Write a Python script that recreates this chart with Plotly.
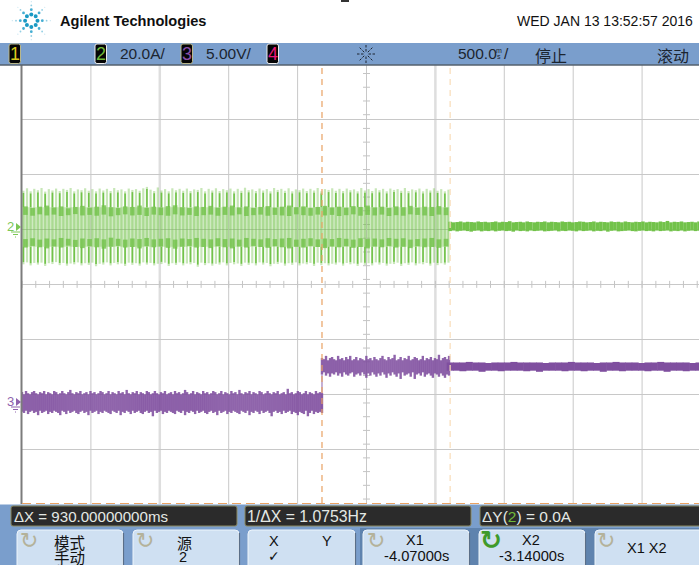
import numpy as np
import plotly.graph_objects as go

W, H = 699, 565

# time axis (s), cursors and scope scale
T_LEFT = -6.247
T_RIGHT = -1.334
X1 = -4.07
X2 = -3.14

# channel 2 current (A), one top/bottom per burst spike
ch2_tops = [13.2, 14.1, 13.0, 13.9, 13.4, 14.2, 12.9, 13.8, 13.3, 14.0, 13.1, 13.9, 13.5, 14.2, 13.0, 13.7,
            13.4, 14.1, 13.2, 13.8, 13.0, 14.0, 13.3, 13.9, 13.1, 14.2, 13.4, 13.7, 13.0, 14.0, 13.5, 13.8,
            13.2, 14.1, 14.6, 13.6, 13.1, 14.4, 13.3, 13.8, 13.0, 14.1, 13.4, 13.9, 13.2, 14.0, 13.1, 13.7,
            13.5, 14.2, 13.0, 13.9, 13.3, 14.1, 13.1, 13.8, 13.4, 14.0, 13.0, 13.9, 13.2, 14.3, 13.4, 13.7,
            13.1, 14.0, 13.3, 13.8, 13.0, 14.2, 13.5, 13.9, 13.2, 14.1, 13.0, 13.7, 13.4, 14.0, 13.1, 13.9,
            13.3, 14.2, 13.0, 13.8, 13.5, 14.1, 13.2, 13.9, 13.1, 14.0, 13.4, 13.7, 13.0, 14.2, 13.3, 13.8,
            13.1, 14.1, 13.4, 13.9, 13.0, 14.0, 13.5, 13.8, 13.2, 14.2, 13.1, 13.7, 13.4, 14.0, 13.0, 13.9,
            13.3, 14.1, 13.2, 13.8, 13.0, 13.6]
ch2_bottoms = [-13.6, -12.9, -14.0, -13.1, -13.7, -13.0, -14.2, -13.2, -13.5, -12.8, -13.9, -13.1, -14.1, -13.3, -13.6, -12.9,
               -14.0, -13.2, -13.8, -13.0, -14.3, -13.4, -13.7, -12.9, -14.0, -13.1, -13.6, -13.3, -14.2, -13.0, -13.8, -13.2,
               -14.1, -12.9, -13.7, -13.1, -14.0, -13.4, -13.5, -13.0, -14.2, -13.2, -13.8, -12.9, -14.0, -13.3, -13.6, -13.1,
               -14.5, -13.0, -13.9, -13.2, -14.1, -13.4, -13.7, -12.9, -14.0, -13.1, -13.6, -13.3, -14.2, -13.0, -13.8, -13.2,
               -14.0, -12.9, -13.7, -13.1, -14.3, -13.4, -13.5, -13.0, -14.1, -13.2, -13.8, -12.9, -14.0, -13.3, -13.6, -13.1,
               -14.2, -13.0, -13.9, -13.2, -14.0, -13.4, -13.7, -12.9, -14.1, -13.1, -13.6, -13.3, -14.2, -13.0, -13.8, -13.2,
               -14.0, -12.9, -13.7, -13.1, -14.1, -13.4, -13.5, -13.0, -14.2, -13.2, -13.8, -12.9, -14.0, -13.3, -13.6, -13.1,
               -14.1, -13.0, -13.9, -13.2, -13.7, -13.0]

# dense parts of the burst (A)
ch2_core = 7.2
ch2_band_out = [7.5, 6.9, 7.4, 7.8, 7.1, 7.5, 6.8, 7.3, 7.7, 7.0, 7.4, 7.9, 7.2, 6.9, 7.5, 7.3,
                7.8, 7.0, 7.4, 7.1, 7.6, 7.9, 7.2, 6.9, 7.5, 7.3, 7.7, 7.0, 7.4, 7.8, 7.1, 7.5,
                6.9, 7.3, 7.6, 7.0, 7.4, 7.8, 7.2, 7.5, 6.9, 7.3, 7.7, 7.1, 7.4, 7.0, 7.6, 7.3,
                7.8, 7.1, 7.4, 6.9, 7.5, 7.2, 7.7, 7.0, 7.4, 7.3, 7.6, 7.1]
ch2_band_in = [4.4, 4.1, 4.6, 4.2, 4.5, 4.0, 4.3, 4.7, 4.2, 4.4, 4.1, 4.5, 3.9, 4.3, 4.6, 4.2,
               4.4, 4.0, 4.5, 4.3, 4.1, 4.6, 4.2, 4.4, 4.0, 4.3, 4.5, 4.1, 4.4, 4.2, 4.6, 4.0,
               4.3, 4.5, 4.1, 4.4, 4.2, 4.0, 4.6, 4.3, 4.1, 4.5, 4.2, 4.4, 4.0, 4.3, 4.6, 4.1,
               4.4, 4.2, 4.5, 4.0, 4.3, 4.1, 4.6, 4.4, 4.2, 4.0, 4.5, 4.3]

# channel 2 after the second cursor (A)
ch2_off_hi = [1.9, 1.7, 1.8, 2.0, 1.7, 1.9, 1.8, 1.7, 2.0, 1.8, 1.9, 1.7, 1.8, 2.0, 1.7, 1.9, 1.8, 2.1, 1.7, 1.8,
              1.9, 1.7, 2.0, 1.8, 1.7, 1.9, 1.8, 2.0, 1.7, 1.9, 1.8, 1.7, 2.0, 1.8, 1.9, 1.7, 1.8, 2.0, 1.9, 1.7,
              1.8, 2.0, 1.7, 1.9, 1.8, 1.7, 2.0, 1.8, 1.9, 1.7, 2.0, 1.8, 1.7, 1.9, 1.8, 2.0, 1.7, 1.9, 1.8, 1.7,
              2.0, 1.8, 2.2, 1.7, 1.9, 1.8, 2.0, 1.7, 1.8, 1.9, 1.7, 2.0]
ch2_off_lo = [-1.5, -1.3, -1.6, -1.4, -1.3, -1.5, -1.7, -1.4, -1.3, -1.6, -1.4, -1.5, -1.3, -1.6, -1.4, -1.3, -1.5, -1.4, -1.7, -1.3,
              -1.5, -1.4, -1.6, -1.3, -1.5, -1.4, -1.3, -1.6, -1.5, -1.4, -1.3, -1.6, -1.4, -1.5, -1.3, -1.4, -1.6, -1.3, -1.5, -1.4,
              -1.3, -1.6, -1.4, -1.5, -1.3, -1.7, -1.4, -1.3, -1.6, -1.5, -1.4, -1.3, -1.5, -1.6, -1.4, -1.3, -1.5, -1.4, -1.6, -1.3,
              -1.5, -1.4, -1.3, -1.6, -1.4, -1.5, -1.3, -1.6, -1.4, -1.3, -1.5, -1.4]

# channel 3 voltage (V): low level, raised level, quiet level
ch3_low_hi = [0.9, 0.7, 1.0, 0.8, 0.7, 0.9, 1.0, 0.8, 0.7, 0.9, 0.8, 1.0, 0.7, 0.9, 0.8, 0.7, 1.0, 0.9, 0.7, 0.8,
              1.0, 0.8, 0.7, 0.9, 1.1, 0.8, 0.7, 0.9, 0.8, 1.0, 0.7, 0.8, 0.9, 0.7, 1.0, 0.8, 0.9, 0.7, 0.8, 1.0,
              0.9, 0.7, 0.8, 1.0, 0.7, 0.9, 0.8, 0.7, 1.0, 0.8, 0.9, 0.7, 1.1, 0.8, 0.7, 0.9, 0.8, 1.0, 0.7, 0.9,
              0.8, 0.7, 1.0, 0.9, 0.7, 0.8, 1.0, 0.8, 0.7, 0.9, 0.8, 1.0, 0.7, 0.8, 0.9, 0.7, 1.0, 0.8, 0.9, 0.7,
              0.8, 1.1, 0.9, 0.7, 0.8, 1.0, 0.7, 0.9, 0.8, 0.7, 1.0, 0.8, 0.9, 0.7, 0.8, 1.0, 0.9, 0.7, 0.8, 1.0,
              0.7, 0.9, 0.8, 0.7, 1.0, 0.8, 0.9, 0.7, 1.1, 0.8, 0.7, 0.9, 0.8, 1.0, 0.7, 0.9, 0.8, 0.7, 1.0, 0.9,
              0.7, 0.8, 1.0, 0.8, 0.7, 0.9, 0.8, 1.0, 0.7, 0.8, 0.9, 0.7, 1.2, 0.8, 0.9, 0.7, 0.8, 1.0, 0.9, 0.7,
              0.8, 1.0, 0.7, 0.9, 0.8, 0.7, 1.0, 0.8, 0.9, 0.8]
ch3_low_lo = [-0.9, -1.0, -0.8, -1.1, -0.9, -0.8, -1.0, -0.9, -1.2, -0.8, -1.0, -0.9, -0.8, -1.1, -0.9, -1.0, -0.8, -0.9, -1.0, -1.2,
              -0.8, -0.9, -1.1, -0.8, -1.0, -0.9, -0.8, -1.0, -1.1, -0.9, -0.8, -1.0, -0.9, -1.2, -0.8, -1.0, -0.9, -0.8, -1.1, -0.9,
              -1.0, -0.8, -0.9, -1.0, -1.1, -0.8, -0.9, -1.0, -0.8, -1.2, -0.9, -1.0, -0.8, -0.9, -1.1, -0.8, -1.0, -0.9, -0.8, -1.0,
              -1.1, -0.9, -0.8, -1.0, -0.9, -1.3, -0.8, -1.0, -0.9, -0.8, -1.1, -0.9, -1.0, -0.8, -0.9, -1.0, -1.1, -0.8, -0.9, -1.0,
              -0.8, -1.2, -0.9, -1.0, -0.8, -0.9, -1.1, -0.8, -1.0, -0.9, -0.8, -1.0, -1.1, -0.9, -0.8, -1.0, -0.9, -1.2, -0.8, -1.0,
              -0.9, -0.8, -1.1, -0.9, -1.0, -0.8, -0.9, -1.0, -1.1, -0.8, -0.9, -1.0, -0.8, -1.2, -0.9, -1.0, -0.8, -0.9, -1.1, -0.8,
              -1.0, -0.9, -0.8, -1.0, -1.3, -0.9, -0.8, -1.0, -0.9, -1.1, -0.8, -1.0, -0.9, -0.8, -1.1, -0.9, -1.0, -1.2, -0.9, -1.0,
              -1.1, -0.8, -1.3, -1.0, -0.8, -1.1, -0.9, -1.0, -0.9, -1.0]
ch3_high_hi = [4.0, 3.9, 4.2, 3.8, 4.0, 4.1, 3.9, 3.8, 4.2, 3.9, 4.0, 3.8, 4.1, 3.9, 4.2, 3.8,
               3.9, 4.1, 3.8, 4.0, 3.9, 3.8, 4.2, 3.9, 4.0, 3.8, 4.1, 3.9, 3.8, 4.0, 4.2, 3.9,
               3.8, 4.1, 3.9, 4.0, 4.3, 3.8, 3.9, 4.1, 3.8, 4.0, 3.9, 4.2, 3.8, 3.9, 4.1, 4.0,
               3.8, 3.9, 4.2, 3.8, 4.0, 3.9, 4.1, 3.8, 4.0, 3.9, 4.3, 3.8, 4.0, 4.1, 3.9, 4.2]
ch3_high_lo = [2.5, 2.7, 2.4, 2.6, 2.3, 2.6, 2.5, 2.7, 2.4, 2.6, 2.3, 2.7, 2.5, 2.4, 2.6, 2.7,
               2.3, 2.5, 2.6, 2.4, 2.7, 2.5, 2.2, 2.6, 2.4, 2.7, 2.5, 2.3, 2.6, 2.4, 2.7, 2.5,
               2.2, 2.6, 2.4, 2.7, 2.5, 2.3, 2.6, 2.1, 2.7, 2.4, 2.5, 2.6, 2.3, 2.7, 2.1, 2.5,
               2.6, 2.4, 2.7, 2.3, 2.5, 2.6, 2.4, 2.2, 2.6, 2.5, 2.3, 2.6, 2.4, 2.2, 2.5, 2.4]
ch3_off_hi = [3.6, 3.6, 3.6, 3.65, 3.6, 3.6, 3.55, 3.6, 3.6, 3.6, 3.65, 3.6, 3.6, 3.6, 3.6, 3.55, 3.6, 3.6, 3.6, 3.65,
              3.6, 3.6, 3.6, 3.55, 3.6, 3.6, 3.65, 3.6, 3.6, 3.6, 3.55, 3.6, 3.6, 3.65, 3.6, 3.6, 3.6, 3.6, 3.55, 3.6]
ch3_off_lo = [2.85, 2.85, 2.8, 2.85, 2.85, 2.75, 2.85, 2.85, 2.8, 2.85, 2.85, 2.85, 2.8, 2.85, 2.75, 2.85, 2.85, 2.85, 2.8, 2.85,
              2.85, 2.8, 2.85, 2.85, 2.75, 2.85, 2.85, 2.8, 2.85, 2.85, 2.85, 2.8, 2.85, 2.85, 2.75, 2.85, 2.85, 2.8, 2.85, 2.85]

GREEN = "#72c24a"
PURPLE = "#7f4f9f"
BAR = "#7a9ecc"
SANS = "Liberation Sans"
CJK = "Noto Sans CJK SC"


def px(x):
    return x / W


def py(y):
    return 1 - y / H


def segments(t, lo, hi):
    xs, ys = [], []
    for a, b, c in zip(t, lo, hi):
        xs += [a, a, None]
        ys += [b, c, None]
    return xs, ys


fig = go.Figure()


def add_seg(t, lo, hi, color, width, yaxis="y"):
    xs, ys = segments(t, lo, hi)
    fig.add_trace(go.Scatter(x=xs, y=ys, mode="lines", yaxis=yaxis, hoverinfo="skip",
                             line=dict(color=color, width=width)))


# center graticule ticks
tick_x = np.arange(T_LEFT, T_RIGHT, 0.1)
tick_y = np.arange(-100, 60, 5.0) + 0.9
fig.add_trace(go.Scatter(x=tick_x, y=[-20.9] * len(tick_x), mode="markers", hoverinfo="skip",
                         marker=dict(symbol="line-ns", size=5, line=dict(width=1, color="#c4c4c4"))))
fig.add_trace(go.Scatter(x=[T_LEFT + 2.5] * len(tick_y), y=tick_y, mode="markers", hoverinfo="skip",
                         marker=dict(symbol="line-ew", size=5, line=dict(width=1, color="#c4c4c4"))))

# channel 2 burst
burst_t = np.linspace(T_LEFT + 0.01, X2 - 0.012, len(ch2_tops))
band_t = np.linspace(T_LEFT + 0.025, X2 - 0.03, len(ch2_band_out))
fig.add_trace(go.Scatter(x=[T_LEFT, X2 - 0.008, X2 - 0.008, T_LEFT], y=[ch2_core, ch2_core, -ch2_core, -ch2_core],
                         mode="none", fill="toself", fillcolor="rgba(114,194,74,0.34)", hoverinfo="skip"))
add_seg(burst_t, ch2_bottoms, ch2_tops, "rgba(114,194,74,0.4)", 2.2)
add_seg(burst_t[::2], [ch2_core] * len(burst_t[::2]), np.array(ch2_tops[::2]) - 0.8, GREEN, 1.6)
add_seg(burst_t[::2], [-ch2_core] * len(burst_t[::2]), np.array(ch2_bottoms[::2]) + 0.8, GREEN, 1.6)
add_seg(band_t, ch2_band_in, ch2_band_out, "rgba(114,194,74,0.8)", 4.6)
add_seg(band_t, -np.array(ch2_band_in), -np.array(ch2_band_out), "rgba(114,194,74,0.8)", 4.6)

# channel 2 after X2
off_t = np.linspace(X2, T_RIGHT, len(ch2_off_hi))
add_seg(off_t, ch2_off_lo, ch2_off_hi, GREEN, 3.6)

# channel 3
low_t = np.linspace(T_LEFT, X1, len(ch3_low_hi))
high_t = np.linspace(X1, X2 - 0.008, len(ch3_high_hi))
add_seg(low_t, ch3_low_lo, ch3_low_hi, "rgba(127,79,159,0.88)", 2.4, "y2")
add_seg([X1], [-1.0], [2.5], "rgba(127,79,159,0.6)", 1.5, "y2")
add_seg(high_t, ch3_high_lo, ch3_high_hi, "rgba(127,79,159,0.88)", 2.4, "y2")
add_seg(np.linspace(X2, T_RIGHT, len(ch3_off_hi)), ch3_off_lo, ch3_off_hi, PURPLE, 7, "y2")

shapes = []


def rect(x0, y0, x1, y1, fill, line=None, lw=0):
    shapes.append(dict(type="rect", xref="paper", yref="paper", x0=px(x0), x1=px(x1), y0=py(y0), y1=py(y1),
                       fillcolor=fill, line=dict(color=line or fill, width=lw), layer="above"))


def rrect(x0, y0, x1, y1, r, fill, line, lw=1):
    d = (f"M {px(x0 + r)} {py(y0)} L {px(x1 - r)} {py(y0)} Q {px(x1)} {py(y0)} {px(x1)} {py(y0 + r)} "
         f"L {px(x1)} {py(y1 - r)} Q {px(x1)} {py(y1)} {px(x1 - r)} {py(y1)} L {px(x0 + r)} {py(y1)} "
         f"Q {px(x0)} {py(y1)} {px(x0)} {py(y1 - r)} L {px(x0)} {py(y0 + r)} Q {px(x0)} {py(y0)} {px(x0 + r)} {py(y0)} Z")
    shapes.append(dict(type="path", xref="paper", yref="paper", path=d, fillcolor=fill,
                       line=dict(color=line, width=lw), layer="above"))


def seg(x0, y0, x1, y1, color, lw=1, dash="solid", layer="above"):
    shapes.append(dict(type="line", xref="paper", yref="paper", x0=px(x0), x1=px(x1), y0=py(y0), y1=py(y1),
                       line=dict(color=color, width=lw, dash=dash), layer=layer))


annotations = []


def label(x, y, text, size=14, color="#1c2530", anchor="center", font=SANS):
    annotations.append(dict(x=px(x), y=py(y), xref="paper", yref="paper", text=text, showarrow=False,
                            xanchor=anchor, yanchor="middle", align=anchor, borderpad=0,
                            font=dict(family=font, size=size, color=color)))


# vertical graticule, two divisions drawn wider and paler
for k in range(1, 10):
    wide = k in (2, 6)
    shapes.append(dict(type="line", xref="x", yref="paper", x0=T_LEFT + 0.5 * k, x1=T_LEFT + 0.5 * k,
                       y0=py(504), y1=py(65), layer="below",
                       line=dict(color="#dedede" if wide else "#c8c8c8", width=2.5 if wide else 1)))
seg(21.5, 65, 21.5, 504, "#7c7c7c", 2)

# cursors
for t, col in ((X1, "#e9a263"), (X2, "#f8dcb8")):
    shapes.append(dict(type="line", xref="x", yref="paper", x0=t, x1=t, y0=py(68), y1=py(503),
                       line=dict(color=col, width=1.2, dash="6px,5px"), layer="above"))
seg(22, 503.5, 699, 503.5, "#e9a263", 1.2, "9px,5px")

# header and footer bars
rect(0, 43, W, 65, BAR)
seg(0, 65, W, 65, "#55606e", 1.5)
rect(0, 504.5, W, H, BAR)
rect(360, 528, W, H, "#5f83ae")
rect(341, 0, 349, 2, "#333333")

# channel tags
for x0, digit, col, edge in ((9, "1", "#d9c81e", "#b9b78a"), (95, "2", "#6fb93a", "#eeeeee"),
                             (181, "3", "#8a4fa8", "#b9b78a"), (267, "4", "#e8187c", "#eeeeee")):
    rrect(x0, 44, x0 + 11.5, 63.5, 2, "#050505", edge, 1)
    label(x0 + 5.8, 54, digit, 18, col)

label(119, 54, "20.0A/", 15.5, anchor="left")
label(205, 54, "5.00V/", 15.5, anchor="left")
label(457, 54, "500.0", 15.5, anchor="left")
label(495, 50, "m", 7, anchor="left")
label(496, 57, "s", 7, anchor="left")
label(503, 54, "/", 15.5, anchor="left")
label(551, 55, "停止", 16, font=CJK)
label(673, 55, "滚动", 16, font=CJK)
label(694, 21, "WED JAN 13 13:52:57 2016", 14, "#111111", "right")
label(59, 21, "<b>Agilent Technologies</b>", 14.6, "#101010", "left")

# trigger sun icon
for a in np.arange(0, 360, 45):
    ca, sa = np.cos(np.radians(a)), np.sin(np.radians(a))
    seg(366 + 2.5 * ca, 54 + 2.5 * sa, 366 + 5 * ca, 54 + 5 * sa, "#1c2530", 1)
    seg(366 + 6.5 * ca, 54 + 6.5 * sa, 366 + 9 * ca, 54 + 9 * sa, "#1c2530", 1)

# logo
LOGO_X, LOGO_Y = 31.3, 20.7
for a in np.arange(0, 360, 45):
    ca, sa = np.cos(np.radians(a)), np.sin(np.radians(a))
    for r, size, col in ((6.2, 2.0, "#1b9ac4"), (11, 1.4, "#45aed2"), (15.3, 0.9, "#93cfe4"), (19, 0.6, "#c4e3ef")):
        cx, cy = LOGO_X + r * ca, LOGO_Y + r * sa
        shapes.append(dict(type="circle", xref="paper", yref="paper", x0=px(cx - size), x1=px(cx + size),
                           y0=py(cy - size), y1=py(cy + size), fillcolor=col, line=dict(width=0), layer="above"))

# channel ground markers
for y0, digit, col in ((227, "2", "#7cc756"), (402, "3", "#8f62ad")):
    label(10.5, y0 - 0.5, digit, 13, col)
    d = f"M {px(16)} {py(y0 - 4)} L {px(21)} {py(y0)} L {px(16)} {py(y0 + 4)} Z"
    shapes.append(dict(type="path", xref="paper", yref="paper", path=d, fillcolor=col, line=dict(width=0), layer="above"))
    seg(11, y0 + 5, 20, y0 + 5, col, 1)
    seg(13, y0 + 7.5, 18, y0 + 7.5, col, 1)
    seg(15, y0 + 10, 16, y0 + 10, col, 1)

# readout boxes
for x0, x1 in ((11, 237), (245, 471), (480, 705)):
    rrect(x0, 506, x1, 526, 2, "#2b2b2b", "#8d8a60", 1)
label(13, 516, "ΔX = 930.00000000ms", 15.1, "#e4e8e4", "left")
label(246, 516, "1/ΔX = 1.0753Hz", 15.8, "#e4e8e4", "left")
label(481, 516, "ΔY(<span style='color:#6fb93a'>2</span>) = 0.0A", 15.5, "#e4e8e4", "left")

# softkeys
for x0, x1 in ((17, 123), (133, 239), (248, 355), (363, 469), (479, 585), (595, 712)):
    rrect(x0, 530, x1, 572, 4, "#cfe0f2", "#eef5fb", 1)
    seg(x1 + 0.5, 533, x1 + 0.5, H, "#5a6e88", 1.2)
label(69, 542, "模式", 15.5, "#111111", font=CJK)
label(69, 556.5, "手动", 15.5, "#111111", font=CJK)
label(184.5, 542, "源", 15, "#111111", font=CJK)
label(183, 557, "2", 14.5, "#111111")
label(274, 541, "X", 14.5, "#111111")
label(327, 541, "Y", 14.5, "#111111")
label(274, 556, "✓", 14, "#111111", font="DejaVu Sans")
label(415, 540, "X1", 14.5, "#111111")
label(416, 556, "-4.07000s", 14.7, "#111111")
label(531, 540, "X2", 14.5, "#111111")
label(531, 556, "-3.14000s", 14.7, "#111111")
label(647, 548, "X1 X2", 14.5, "#111111")
for x0, col, txt, sz in ((29, "#b4b29a", "↻", 22), (145, "#b4b29a", "↻", 22), (376, "#b4b29a", "↻", 22),
                         (491, "#3f9a2b", "<b>↻</b>", 26), (606, "#b4b29a", "↻", 22)):
    label(x0, 540, txt, sz, col, font="DejaVu Sans")

axis_common = dict(showticklabels=False, ticks="", zeroline=False, showline=False)
fig.update_layout(
    width=W, height=H, margin=dict(l=0, r=0, t=0, b=0), showlegend=False,
    paper_bgcolor="white", plot_bgcolor="white",
    xaxis=dict(domain=[px(22), 1], range=[T_LEFT, T_RIGHT], showgrid=False, **axis_common),
    yaxis=dict(domain=[py(504), py(65)], range=[-100.9, 59.0], tick0=-100.9, dtick=20,
               showgrid=True, gridcolor="#c8c8c8", gridwidth=1, **axis_common),
    yaxis2=dict(domain=[py(504), py(65)], range=[-9.29, 30.69], overlaying="y", showgrid=False, **axis_common),
    shapes=shapes, annotations=annotations,
)

fig.write_html("out.html", config=dict(displayModeBar=False), post_script="document.body.style.margin='0';")
